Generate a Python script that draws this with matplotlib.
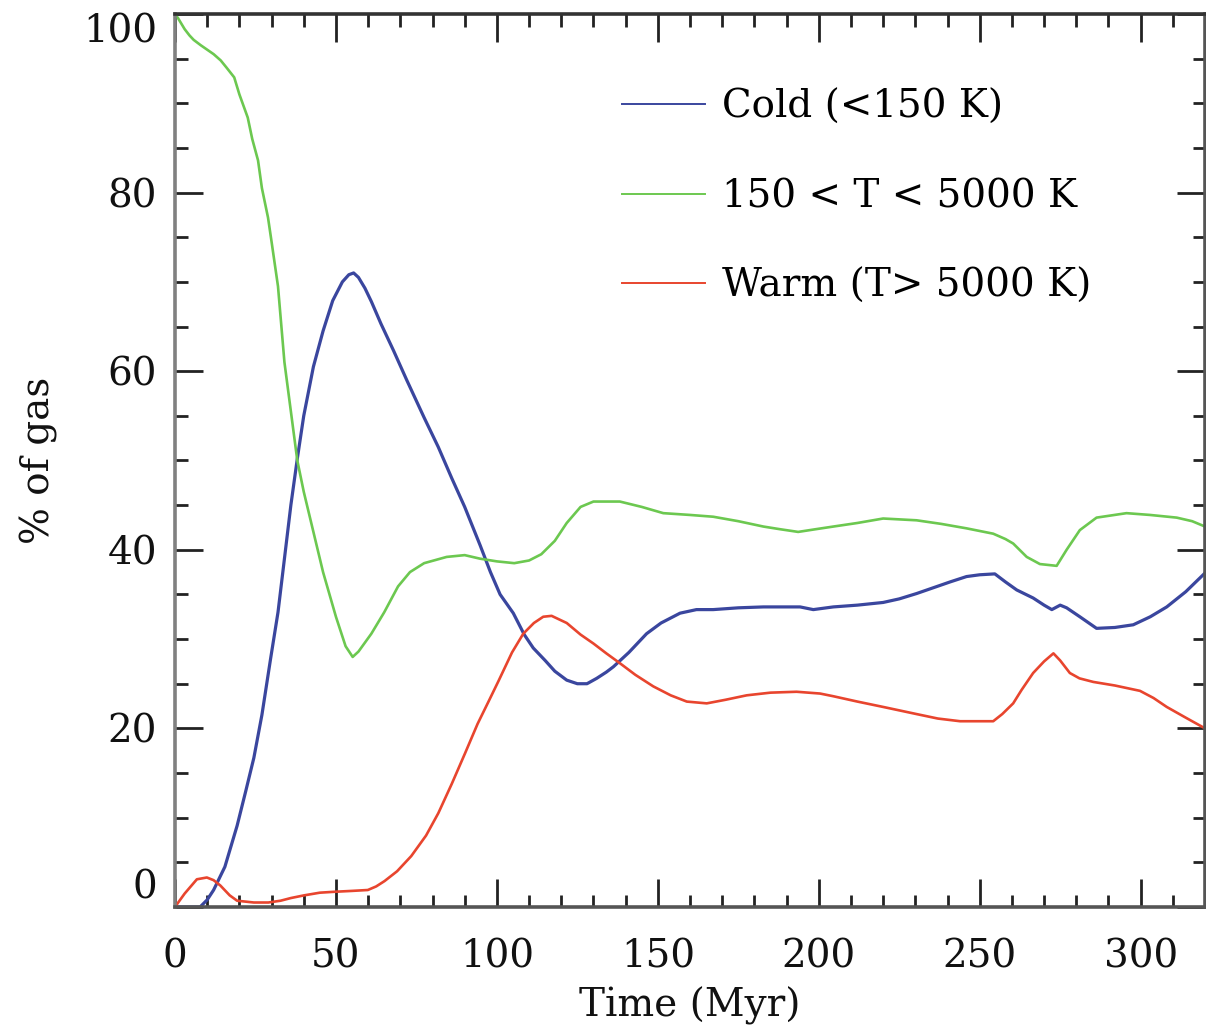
import matplotlib.pyplot as plt
from matplotlib.ticker import MultipleLocator

plt.rcParams['font.family'] = ['DejaVu Serif']

# time (Myr) and percentage of gas for each temperature phase
t_cold = [0, 4, 7.8, 10, 12, 15.5, 19.3, 22, 24.5, 27, 29.7, 32, 34, 36, 38, 40, 43, 46, 49, 52,
          54, 55.5, 57, 59, 61, 64, 67.9, 72, 77.4, 81.8, 86, 90, 94.8, 98, 101, 105.1, 108.5, 111.3,
          115, 118, 121.7, 125, 128, 131, 134, 136.2, 141, 146.5, 151, 156.9, 162, 167.2, 175, 182.8,
          190, 194.2, 198.3, 204.5, 212, 220, 225, 230.4, 236, 240.8, 245.9, 250, 254.7, 258,
          261.5, 266.6, 270, 272.4, 275, 277, 281.1, 286.3, 292, 297.7, 303, 308.1, 314, 320]
cold = [0, 0, 0, 0.8, 1.9, 4.5, 9.1, 13, 16.7, 21.5, 27.8, 33, 39, 45, 50.2, 55, 60.5, 64.5, 67.9, 70,
        70.8, 71, 70.5, 69.3, 67.8, 65.3, 62.3, 59, 54.8, 51.5, 48, 44.8, 40.5, 37.5, 35, 32.9, 30.5, 29,
        27.6, 26.4, 25.4, 25, 25, 25.6, 26.3, 26.9, 28.5, 30.6, 31.8, 32.9, 33.3, 33.3, 33.5, 33.6,
        33.6, 33.6, 33.3, 33.6, 33.8, 34.1, 34.5, 35.1, 35.8, 36.4, 37, 37.2, 37.3, 36.4,
        35.5, 34.6, 33.8, 33.3, 33.8, 33.5, 32.5, 31.2, 31.3, 31.6, 32.5, 33.6, 35.3, 37.4]

t_mid = [0, 1, 2, 3, 4.5, 5.8, 8, 10, 12, 14.2, 16, 18.4, 20, 22.6, 24, 25.8, 27, 28.9, 30, 32, 34,
         36, 38, 40, 43, 46, 50, 53, 55.2, 57, 61, 65, 69.3, 73, 77.4, 84.4, 90, 94.8, 100, 105.4,
         110, 113.8, 118, 121.7, 126, 130, 138.2, 145, 151.7, 160, 167.2, 175, 182.8, 188, 193.6,
         199, 204.5, 212, 220, 230.4, 238, 245.9, 254.2, 258, 260.4, 264.6, 268.7, 273.9, 277,
         281.1, 286.3, 295.6, 302.9, 311.2, 316, 320]
mid = [100, 99.5, 98.9, 98.3, 97.6, 97.1, 96.5, 96, 95.5, 94.8, 94, 92.9, 91, 88.4, 86, 83.6, 80.5,
       77.2, 74.5, 69.5, 61, 55.5, 50, 46.5, 42, 37.5, 32.5, 29.2, 28, 28.6, 30.6, 33, 35.9, 37.5,
       38.5, 39.2, 39.4, 39, 38.7, 38.5, 38.8, 39.5, 41, 43, 44.8, 45.4, 45.4, 44.8, 44.1, 43.9,
       43.7, 43.2, 42.6, 42.3, 42, 42.3, 42.6, 43, 43.5, 43.3, 42.9, 42.4, 41.8, 41.2, 40.7, 39.2,
       38.4, 38.2, 40, 42.2, 43.6, 44.1, 43.9, 43.6, 43.2, 42.6]

t_warm = [0, 3, 6.8, 9.9, 12, 14.1, 17, 19.3, 24.5, 29, 32.8, 36, 40.1, 45, 49.5, 55, 59.9, 62.5,
          65.1, 69, 73.4, 78, 81.8, 86, 90.1, 94, 97.4, 100.5, 104.7, 108.2, 111.5, 114.4, 117,
          121.7, 126, 130, 134, 138.2, 143, 148.6, 154, 159, 165.2, 171, 177.6, 185, 193.1,
          200.4, 204.5, 212, 220, 230.4, 237, 243.9, 250, 254.2, 257, 260.4, 263, 266.6, 270,
          272.9, 275, 278, 281, 285.3, 292, 299.8, 304, 308.1, 314, 320]
warm = [0, 1.5, 3.1, 3.3, 3, 2.4, 1.3, 0.7, 0.5, 0.5, 0.7, 1, 1.3, 1.6, 1.7, 1.8, 1.9, 2.3,
        2.9, 4, 5.7, 8, 10.5, 13.8, 17.2, 20.5, 23, 25.3, 28.5, 30.6, 31.8, 32.5, 32.6,
        31.8, 30.5, 29.5, 28.4, 27.3, 26, 24.7, 23.7, 23, 22.8, 23.2, 23.7, 24, 24.1,
        23.9, 23.6, 23, 22.4, 21.6, 21.1, 20.8, 20.8, 20.8, 21.6, 22.8, 24.3, 26.2, 27.5,
        28.4, 27.6, 26.2, 25.6, 25.2, 24.8, 24.2, 23.4, 22.4, 21.2, 20]

labels = ['Cold (<150 K)', '150 < T < 5000 K', 'Warm (T> 5000 K)']
colours = ['#3a469e', '#6cc850', '#e8452e']

fig = plt.figure(figsize=(12.06, 10.35), dpi=100)
ax = fig.add_axes([0.1451, 0.1237, 0.8541, 0.8628])

ax.plot(t_cold, cold, color=colours[0], lw=2.3, label=labels[0])
ax.plot(t_mid, mid, color=colours[1], lw=1.9, label=labels[1])
ax.plot(t_warm, warm, color=colours[2], lw=1.9, label=labels[2])

ax.set_xlim(0, 320)
ax.set_ylim(0, 100)
ax.xaxis.set_major_locator(MultipleLocator(50))
ax.xaxis.set_minor_locator(MultipleLocator(10))
ax.yaxis.set_major_locator(MultipleLocator(20))
ax.yaxis.set_minor_locator(MultipleLocator(5))

ax.tick_params(which='both', direction='in', top=True, right=True, colors='#222222',
               labelsize=28, labelcolor='#111111')
ax.tick_params(which='major', length=20, width=2)
ax.tick_params(which='minor', length=9, width=2)
ax.tick_params(axis='x', pad=23)
ax.tick_params(axis='y', pad=13)

for side in ['left', 'right', 'top', 'bottom']:
    ax.spines[side].set_linewidth(2.6)
    ax.spines[side].set_color('#555555')
ax.spines['top'].set_color('#333333')
ax.spines['left'].set_color('#808080')

ax.set_xlabel('Time (Myr)', fontsize=28, labelpad=8, color='#111111')
ax.set_ylabel('% of gas', fontsize=28, labelpad=18, color='#111111')

leg = ax.legend(loc='upper left', bbox_to_anchor=(0.434, 0.916), frameon=False, fontsize=28,
                handlelength=2.13, handletextpad=0.44, labelspacing=1.35, borderpad=0,
                borderaxespad=0)
for line in leg.get_lines():
    line.set_linewidth(1.4)

# keep the end labels of the y axis inside the frame (ticks exist only after a draw)
fig.canvas.draw()
for tick in ax.yaxis.get_major_ticks():
    loc = tick.get_loc()
    if abs(loc) < 1e-6:
        tick.label1.set_va('bottom')
    elif abs(loc - 100) < 1e-6:
        tick.label1.set_va('top')
    else:
        tick.label1.set_va('center_baseline')

fig.savefig('out.png', dpi=100)
